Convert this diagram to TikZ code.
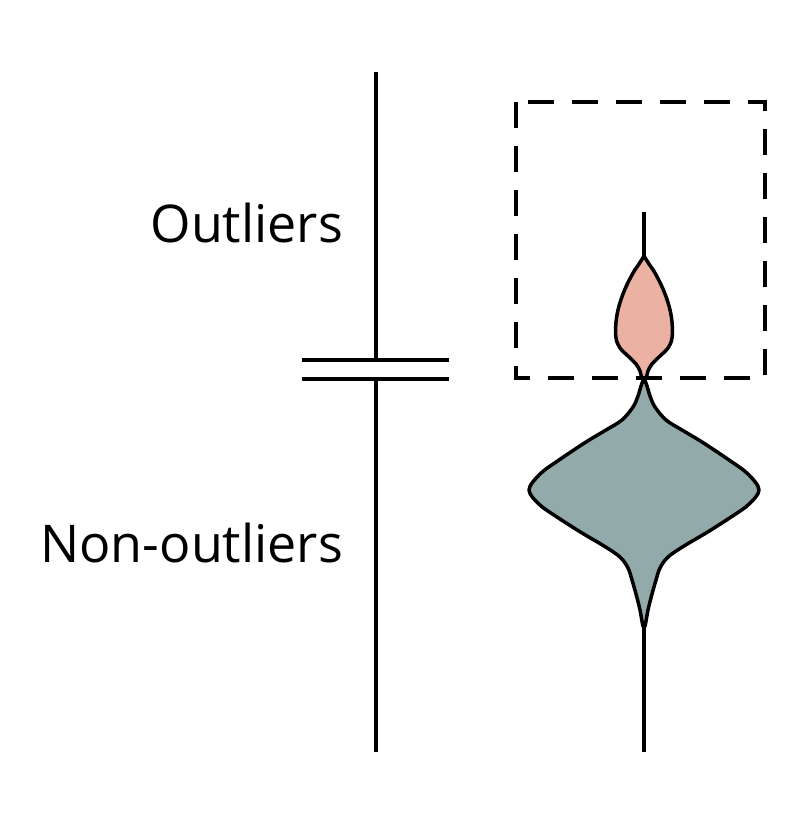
\documentclass[tikz,border=0pt]{standalone}
\usepackage{fontspec}
\setmainfont{Open Sans}
\usetikzlibrary{positioning,calc}
\tikzset{>=stealth}
\definecolor{outpink}{RGB}{235,177,162}
\definecolor{inlgray}{RGB}{146,171,170}
\tikzset{
  axisline/.style={line width=4pt},
  violin/.style={line width=3.5pt,line join=round},
  label/.style={font=\fontsize{52}{60}\selectfont,inner sep=0pt,anchor=base east},
}

\begin{document}
\begin{tikzpicture}[x=1pt,y=-1pt]
\useasboundingbox (0,0) rectangle (810,832);
% axis with break
\coordinate (top) at (376,72);
\coordinate (bup) at (376,360);
\coordinate (blo) at (376,379);
\coordinate (bot) at (376,752);
\draw[axisline] (top) -- (bup);
\draw[axisline] (blo) -- (bot);
\draw[axisline] ($(bup)+(-74,0)$) -- ($(bup)+(73,0)$);
\draw[axisline] ($(blo)+(-74,0)$) -- ($(blo)+(73,0)$);
\node[label] (outl) at (343,242) {Outliers};
\node[label] (nonoutl) at (343,562) {Non-outliers};
% violin
\begin{scope}[xshift=644pt]
\draw[violin] (0,212) -- (0,262);
\draw[violin] (0,622) -- (0,752);
\draw[violin,fill=outpink] plot[smooth,tension=0.6] coordinates {
  (0,256) (5,264) (11,273) (19,289) (25,306) (28,322) (28,338) (24,348)
  (16,356) (8,364) (4,371) (2,378) (-2,378) (-4,371) (-8,364) (-16,356)
  (-24,348) (-28,338) (-28,322) (-25,306) (-19,289) (-11,273) (-5,264) (0,256)};
\draw[violin,fill=inlgray] plot[smooth,tension=0.55] coordinates {
  (0,378) (3,386) (6,396) (11,407) (22,420) (38,430) (58,442) (85,460)
  (104,474) (115,490) (104,505) (84,519) (62,533) (40,546) (24,557)
  (16,568) (12,580) (8,594) (4,610) (1,626) (-1,626) (-4,610) (-8,594)
  (-12,580) (-16,568) (-24,557) (-40,546) (-62,533) (-84,519) (-104,505)
  (-115,490) (-104,474) (-85,460) (-58,442) (-38,430) (-22,420) (-11,407)
  (-6,396) (-3,386) (0,378)};
\end{scope}
\draw[axisline,dash pattern=on 26pt off 18pt] (516,102) rectangle (765,378);
\end{tikzpicture}
\end{document}
